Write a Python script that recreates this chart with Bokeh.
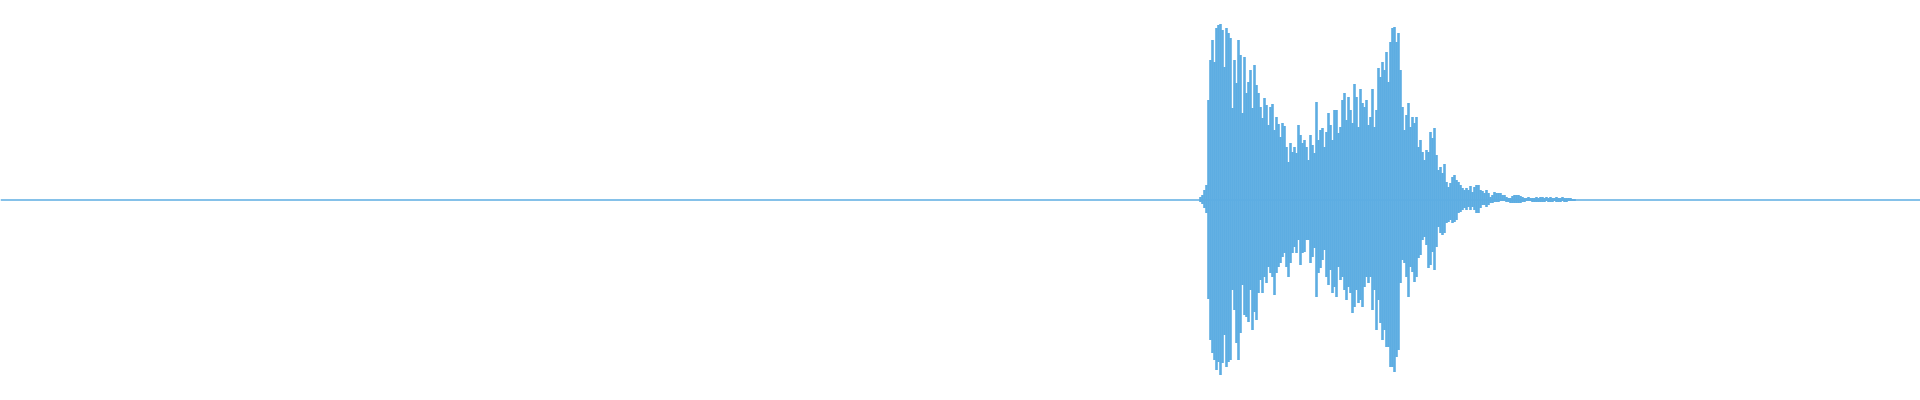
from bokeh.plotting import figure
from bokeh.models import Range1d, ColumnDataSource
from bokeh.embed import file_html
from bokeh.resources import INLINE

# ---- data: waveform envelope (amplitude, full scale ~180) per 2-frame bin ----
total_frames = 1920
start_frame = 1200
bin_frames = 2

top_amp = [
    3, 5, 10, 15, 100, 140, 160, 138, 172, 175,
    176, 170, 133, 172, 167, 162, 92, 140, 117, 160,
    145, 87, 143, 107, 118, 130, 92, 135, 115, 107,
    93, 82, 102, 95, 75, 93, 96, 70, 83, 76,
    63, 77, 74, 53, 38, 57, 48, 53, 47, 75,
    65, 57, 60, 53, 40, 65, 55, 47, 98, 60,
    70, 72, 53, 68, 87, 75, 60, 90, 90, 67,
    73, 100, 107, 80, 103, 90, 77, 116, 103, 73,
    111, 97, 93, 100, 75, 83, 111, 73, 90, 132,
    123, 138, 130, 148, 118, 158, 172, 173, 158, 167,
    130, 93, 70, 85, 97, 73, 83, 77, 83, 53,
    60, 48, 40, 50, 48, 68, 62, 72, 45, 30,
    33, 27, 36, 18, 13, 17, 23, 25, 20, 18,
    15, 12, 10, 12, 10, 14, 8, 13, 15, 15,
    10, 9, 7, 10, 7, 3, 5, 8, 7, 7,
    7, 5, 5, 3, 2, 2, 4, 5, 5, 5,
    4, 3, 2, 2, 3, 2, 2, 2, 3, 2,
    3, 3, 2, 3, 2, 3, 2, 2, 3, 2,
    2, 3, 2, 2, 2, 2, 1, 1,
]

bottom_amp = [
    -2, -4, -8, -13, -99, -140, -153, -160, -170, -162,
    -175, -163, -135, -167, -162, -160, -90, -110, -143, -160,
    -133, -85, -115, -117, -122, -90, -130, -112, -120, -93,
    -80, -93, -77, -83, -67, -73, -77, -95, -73, -67,
    -63, -57, -53, -67, -77, -63, -53, -47, -53, -40,
    -65, -53, -52, -40, -40, -63, -57, -48, -97, -73,
    -68, -60, -50, -77, -85, -70, -93, -87, -97, -67,
    -80, -77, -90, -100, -87, -93, -113, -107, -90, -103,
    -100, -107, -87, -77, -83, -77, -110, -90, -130, -100,
    -123, -140, -130, -147, -147, -167, -167, -172, -157, -150,
    -83, -60, -63, -77, -97, -67, -72, -82, -77, -58,
    -55, -40, -37, -45, -68, -65, -52, -70, -47, -27,
    -33, -35, -33, -23, -22, -20, -23, -22, -20, -13,
    -12, -10, -8, -10, -7, -10, -7, -10, -13, -13,
    -8, -5, -5, -7, -5, -3, -3, -2, -2, -2,
    -1, -1, -1, -2, -2, -3, -3, -3, -3, -3,
    -3, -2, -2, -1, -1, -1, -2, -2, -2, -2,
    -2, -2, -2, -1, -2, -2, -2, -1, -2, -2,
    -2, -1, -2, -2, -1, -1, -1, -1,
]

frame = list(range(start_frame, start_frame + bin_frames * len(top_amp), bin_frames))

COLOR = "#5DADE2"

src = ColumnDataSource(dict(x=frame, top=top_amp, bottom=bottom_amp))

p = figure(
    width=1920, height=400,
    output_backend="svg", toolbar_location=None,
    x_range=Range1d(0, total_frames),
    y_range=Range1d(-200.5, 199.5),
    min_border=0,
)
p.xaxis.visible = False
p.yaxis.visible = False
p.xgrid.visible = False
p.ygrid.visible = False
p.outline_line_color = None
p.background_fill_color = "white"
p.border_fill_color = "white"

# silent baseline across the whole clip
p.hbar(y=[0], height=1.6, left=[0], right=[total_frames], fill_color=COLOR, line_color=None)
# waveform envelope (bins slightly overlapped so no seams show)
p.vbar(x="x", width=bin_frames * 1.3, top="top", bottom="bottom", source=src,
       fill_color=COLOR, line_color=None)

open("out.html", "w").write(file_html(p, INLINE))
